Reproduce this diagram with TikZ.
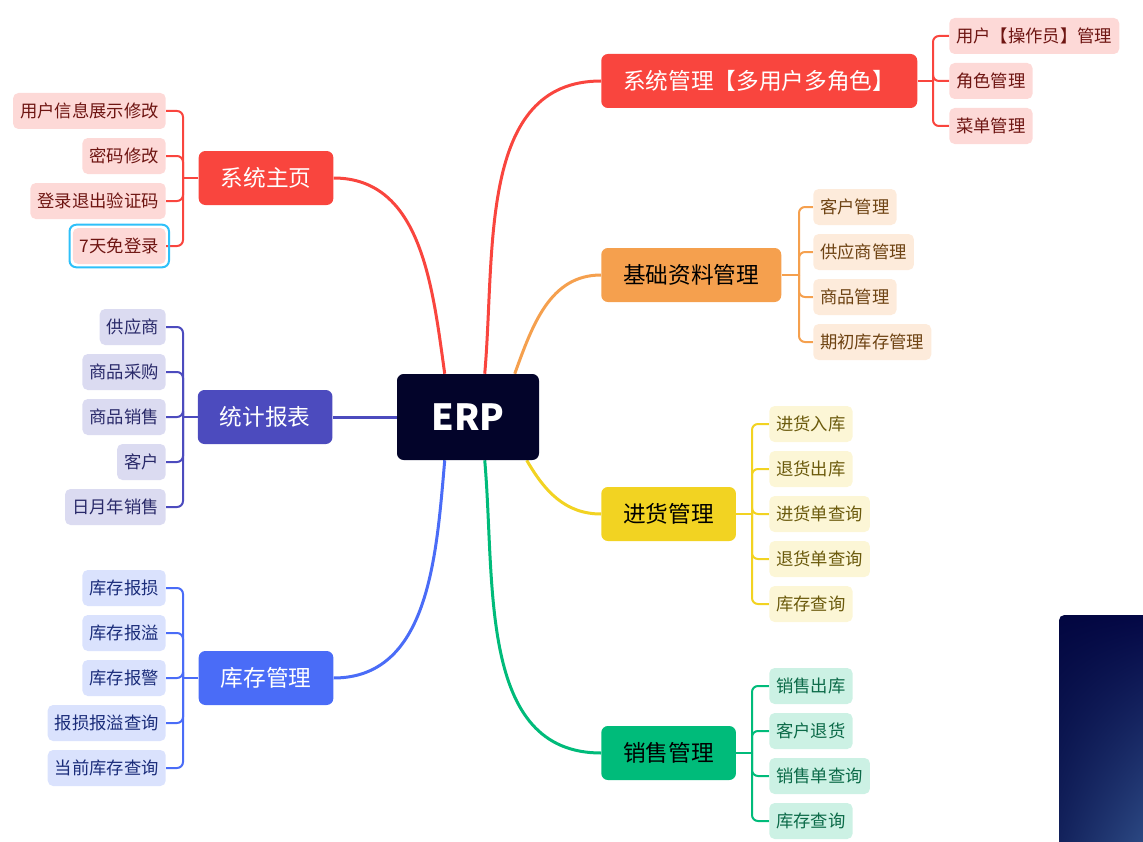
\documentclass[tikz,border=0pt]{standalone}
\usepackage{fontspec}
\setmainfont{Noto Sans CJK SC}
\usetikzlibrary{positioning, fit, calc, shadings}
\pgfdeclarelayer{background}
\pgfsetlayers{background,main}
\definecolor{cRoot}{HTML}{03042A}
\definecolor{cRed}{HTML}{F9453E}\definecolor{cRedL}{HTML}{FDD9D7}\definecolor{cRedT}{HTML}{6E1512}
\definecolor{cOrg}{HTML}{F5A04E}\definecolor{cOrgL}{HTML}{FDEBDB}\definecolor{cOrgT}{HTML}{6E4313}
\definecolor{cYel}{HTML}{F2D322}\definecolor{cYelL}{HTML}{FCF6D6}\definecolor{cYelT}{HTML}{6B5A0C}
\definecolor{cGrn}{HTML}{00BB7A}\definecolor{cGrnL}{HTML}{CCF1E4}\definecolor{cGrnT}{HTML}{0B6A48}
\definecolor{cBlu}{HTML}{4A6CF7}\definecolor{cBluL}{HTML}{DAE2FD}\definecolor{cBluT}{HTML}{1A2C7A}
\definecolor{cInd}{HTML}{4C4BBE}\definecolor{cIndL}{HTML}{DBDBF1}\definecolor{cIndT}{HTML}{2A2A6A}
\definecolor{cSel}{HTML}{2EC0F9}
\definecolor{cPanA}{HTML}{020640}\definecolor{cPanB}{HTML}{040846}
\definecolor{cPanC}{HTML}{14245E}\definecolor{cPanD}{HTML}{34558F}
\tikzset{
    root/.style={fill=cRoot, text=white, rounded corners=5pt, minimum width=106.5pt, minimum height=64.5pt, font=\fontsize{27pt}{27pt}\selectfont\bfseries},
    branch/.style={fill=#1, rounded corners=5pt, inner xsep=16.5pt, inner ysep=0pt, minimum height=40.5pt, font=\fontsize{17pt}{17pt}\selectfont},
    kid/.style={fill=#1L, text=#1T, rounded corners=4pt, inner xsep=5.25pt, inner ysep=0pt, minimum height=27pt, font=\fontsize{13pt}{13pt}\selectfont},
    limb/.style={draw=#1, line width=2.25pt},
    twig/.style={draw=#1, line width=1.5pt, rounded corners=4.5pt},
}
\begin{document}
\begin{tikzpicture}[x=0.75pt, y=-0.75pt]
    \useasboundingbox (0,0) rectangle (1143,842);

    \node[root] (erp) at (468,417) {ERP};

    % left side
    \node[branch=cRed, text=white] (home) at (266,178) {系统主页};
    \node[branch=cInd, text=white, left=48pt of erp] (stat) {统计报表};
    \node[branch=cBlu, text=white] (stock) at (266,678) {库存管理};

    % right side
    \node[branch=cRed, text=white, anchor=west] (sys) at (601,81) {系统管理【多用户多角色】};
    \node[branch=cOrg, anchor=west] (base) at (601,275) {基础资料管理};
    \node[branch=cYel, anchor=west] (buy) at (601,514) {进货管理};
    \node[branch=cGrn, anchor=west] (sell) at (601,753) {销售管理};

    \coordinate (rHome) at ([xshift=36pt]erp.north west);
    \coordinate (rSys) at ([xshift=66pt]erp.north west);
    \coordinate (rBase) at ([xshift=88.5pt]erp.north west);
    \coordinate (rStock) at ([xshift=36pt]erp.south west);
    \coordinate (rSell) at ([xshift=66pt]erp.south west);
    \coordinate (rBuy) at ([xshift=97.5pt]erp.south west);

    \coordinate (homeS) at (183,178);
    \coordinate (statS) at (183,417);
    \coordinate (stockS) at (183,678);
    \coordinate (sysS) at (933,81);
    \coordinate (baseS) at (799,275);
    \coordinate (buyS) at (752,514);
    \coordinate (sellS) at (752,753);

    \foreach \t [count=\i] in {用户信息展示修改, 密码修改, 登录退出验证码, 7天免登录}
      \node[kid=cRed, anchor=east] (home\i) at (166,{66+45*\i}) {\t};
    \foreach \t [count=\i] in {供应商, 商品采购, 商品销售, 客户, 日月年销售}
      \node[kid=cInd, anchor=east] (stat\i) at (166,{282+45*\i}) {\t};
    \foreach \t [count=\i] in {库存报损, 库存报溢, 库存报警, 报损报溢查询, 当前库存查询}
      \node[kid=cBlu, anchor=east] (stock\i) at (166,{543+45*\i}) {\t};
    \foreach \t [count=\i] in {用户【操作员】管理, 角色管理, 菜单管理}
      \node[kid=cRed, anchor=west] (sys\i) at (949,{-9+45*\i}) {\t};
    \foreach \t [count=\i] in {客户管理, 供应商管理, 商品管理, 期初库存管理}
      \node[kid=cOrg, anchor=west] (base\i) at (813,{162+45*\i}) {\t};
    \foreach \t [count=\i] in {进货入库, 退货出库, 进货单查询, 退货单查询, 库存查询}
      \node[kid=cYel, anchor=west] (buy\i) at (769,{379+45*\i}) {\t};
    \foreach \t [count=\i] in {销售出库, 客户退货, 销售单查询, 库存查询}
      \node[kid=cGrn, anchor=west] (sell\i) at (769,{641+45*\i}) {\t};

    \node[fit=(home4), draw=cSel, line width=1.5pt, rounded corners=5pt, inner sep=2.25pt] (pick) {};

    \begin{pgfonlayer}{background}
      \draw[limb=cRed] (rHome) to[out=98, in=0] (home.east);
      \draw[limb=cInd] (erp.west) -- (stat.east);
      \draw[limb=cBlu] (rStock) to[out=-95, in=0] (stock.east);
      \draw[limb=cRed] (rSys) to[out=85, in=180] (sys.west);
      \draw[limb=cOrg] (rBase) to[out=70, in=180] (base.west);
      \draw[limb=cYel] (rBuy) to[out=-60, in=180] (buy.west);
      \draw[limb=cGrn] (rSell) to[out=-85, in=180] (sell.west);

      \draw[twig=cRed] (home.west) -- (homeS);
      \foreach \i in {1,...,4} \draw[twig=cRed] (homeS) |- (home\i.east);
      \draw[twig=cInd] (stat.west) -- (statS);
      \foreach \i in {1,...,5} \draw[twig=cInd] (statS) |- (stat\i.east);
      \draw[twig=cBlu] (stock.west) -- (stockS);
      \foreach \i in {1,...,5} \draw[twig=cBlu] (stockS) |- (stock\i.east);
      \draw[twig=cRed] (sys.east) -- (sysS);
      \foreach \i in {1,...,3} \draw[twig=cRed] (sysS) |- (sys\i.west);
      \draw[twig=cOrg] (base.east) -- (baseS);
      \foreach \i in {1,...,4} \draw[twig=cOrg] (baseS) |- (base\i.west);
      \draw[twig=cYel] (buy.east) -- (buyS);
      \foreach \i in {1,...,5} \draw[twig=cYel] (buyS) |- (buy\i.west);
      \draw[twig=cGrn] (sell.east) -- (sellS);
      \foreach \i in {1,...,4} \draw[twig=cGrn] (sellS) |- (sell\i.west);
    \end{pgfonlayer}

    % dark panel in the corner
    \shade[rounded corners=4pt, upper left=cPanA, upper right=cPanB, lower left=cPanC, lower right=cPanD]
      (1059,615) rectangle (1160,860);
\end{tikzpicture}
\end{document}
